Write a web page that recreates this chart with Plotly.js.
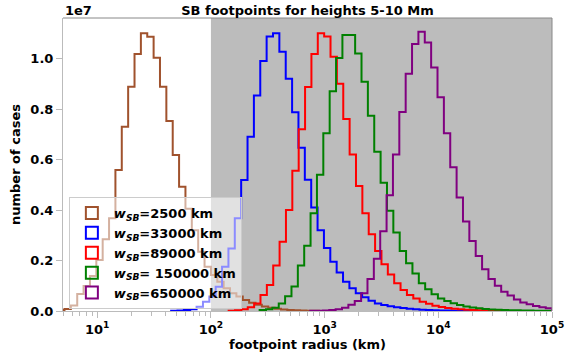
<!DOCTYPE html>
<html>
<head>
<meta charset="utf-8">
<script src="https://cdn.plot.ly/plotly-3.0.1.min.js"></script>
<style>html,body{margin:0;padding:0;background:#fff;}#chart{width:578px;height:358px;}</style>
</head>
<body>
<div id="chart"></div>
<script>
// histogram bin width in log10(km)
const binWidth = 0.056;
// first bin edge (log10 km) of each histogram
const brownStart = 0.656, blueStart = 1.650, redStart = 2.156, greenStart = 2.4285, purpleStart = 2.873;
// counts per bin, in units of 1e7
const brownCounts = [0.004,0.008,0.022,0.067,0.099,0.139,0.202,0.284,0.367,0.558,0.73,0.888,1.018,1.10,1.086,1.003,0.888,0.752,0.618,0.492,0.405,0.32,0.235,0.175,0.143,0.116,0.09,0.07,0.057,0.044,0.033,0.025,0.018,0.013,0.009,0.006,0.004,0.003,0.002,0.001,0.001];
const blueCounts = [0.001,0.002,0.004,0.007,0.017,0.037,0.057,0.096,0.175,0.248,0.367,0.519,0.69,0.853,0.99,1.087,1.10,1.027,0.92,0.787,0.647,0.52,0.41,0.32,0.25,0.195,0.152,0.116,0.09,0.07,0.054,0.041,0.03,0.024,0.019,0.015,0.012,0.009,0.007,0.005,0.004,0.003,0.002,0.0015,0.001,0.001,0.0005];
const redCounts = [0.001,0.003,0.007,0.015,0.03,0.063,0.103,0.18,0.274,0.40,0.555,0.72,0.887,1.018,1.10,1.087,1.007,0.90,0.76,0.62,0.495,0.387,0.304,0.238,0.185,0.145,0.11,0.083,0.063,0.05,0.037,0.029,0.021,0.016,0.012,0.009,0.007,0.005,0.004,0.003,0.002,0.0015,0.001,0.001];
const greenCounts = [0.004,0.007,0.013,0.03,0.058,0.097,0.18,0.258,0.387,0.54,0.704,0.87,1.002,1.093,1.093,1.02,0.908,0.773,0.631,0.508,0.397,0.311,0.238,0.189,0.149,0.11,0.086,0.066,0.05,0.04,0.031,0.024,0.018,0.014,0.011,0.008,0.006,0.005,0.004,0.003,0.0025,0.002,0.0015,0.001,0.001,0.001];
const purpleCounts = [0.0005,0.001,0.002,0.004,0.007,0.013,0.025,0.04,0.07,0.127,0.207,0.316,0.458,0.62,0.788,0.94,1.057,1.106,1.063,0.964,0.847,0.704,0.569,0.45,0.354,0.277,0.218,0.165,0.127,0.10,0.076,0.061,0.046,0.034,0.027,0.02,0.015,0.011];
const seriesNames = ['<i>w</i><sub><i>SB</i></sub>=2500 km','<i>w</i><sub><i>SB</i></sub>=33000 km','<i>w</i><sub><i>SB</i></sub>=89000 km','<i>w</i><sub><i>SB</i></sub>= 150000 km','<i>w</i><sub><i>SB</i></sub>=650000 km'];
const seriesColors = ['#a0522d','#0000ff','#ff0000','#008000','#800080'];
const xTickVals = [10,100,1000,10000,100000];
const xTickText = ['10<sup>1</sup>','10<sup>2</sup>','10<sup>3</sup>','10<sup>4</sup>','10<sup>5</sup>'];
const yTickVals = [0,0.2,0.4,0.6,0.8,1.0];
const shadeFrom = 100, shadeTo = 100000;

function stepTrace(start, counts, color){
  const x = [], y = [];
  const edge = k => Math.pow(10, start + k*binWidth);
  x.push(edge(0)); y.push(0);
  for(let k=0;k<counts.length;k++){ x.push(edge(k)); y.push(counts[k]); }
  x.push(edge(counts.length)); y.push(0);
  return {type:'scatter', mode:'lines', x:x, y:y, line:{shape:'hv', color:color, width:2}, showlegend:false, hoverinfo:'skip'};
}
const starts = [brownStart, blueStart, redStart, greenStart, purpleStart];
const counts = [brownCounts, blueCounts, redCounts, greenCounts, purpleCounts];
const traces = [];
for(let i=0;i<5;i++) traces.push(stepTrace(starts[i], counts[i], seriesColors[i]));
for(let i=0;i<5;i++) traces.push({type:'bar', x:[null], y:[null], name:seriesNames[i],
  marker:{color:'rgba(0,0,0,0)', line:{color:seriesColors[i], width:2}}, showlegend:true});

const F = 'DejaVu Sans, sans-serif';
const layout = {
  width:578, height:358,
  margin:{l:63, r:26, t:18, b:47},
  paper_bgcolor:'#fff', plot_bgcolor:'#fff',
  font:{family:F, size:13, color:'#000', weight:'bold'},
  title:{text:'SB footpoints for heights 5-10 Mm', font:{family:F, size:13, weight:'bold', color:'#000'}, x:0.532, xanchor:'center', y:0.972, yanchor:'middle'},
  xaxis:{type:'log', range:[Math.log10(5), 5], tickmode:'array', tickvals:xTickVals, ticktext:xTickText,
    ticks:'outside', ticklen:6, tickcolor:'#bbbbbb', showgrid:false, zeroline:false, showline:true, linecolor:'#bbbbbb', linewidth:1,
    tickfont:{family:F, size:13, weight:'bold'},
    minor:{dtick:'D1', ticks:'outside', ticklen:3.5, tickcolor:'#bbbbbb', showgrid:false},
    title:{text:'footpoint radius (km)', font:{family:F, size:13, weight:'bold'}, standoff:4}},
  yaxis:{range:[0,1.1604], tickmode:'array', tickvals:yTickVals, tickformat:'.1f',
    ticks:'outside', ticklen:6, tickcolor:'#bbbbbb', showgrid:false, zeroline:false, showline:true, linecolor:'#bbbbbb', linewidth:1,
    tickfont:{family:F, size:13, weight:'bold'},
    title:{text:'number of cases', font:{family:F, size:13, weight:'bold'}, standoff:6}},
  shapes:[
    {type:'rect', xref:'x', yref:'paper', x0:shadeFrom, x1:shadeTo, y0:0, y1:1, fillcolor:'#bcbcbc', line:{width:0}, layer:'below'},
    {type:'line', xref:'paper', yref:'paper', x0:0, x1:1, y0:1, y1:1, line:{color:'#888888', width:1}},
    {type:'line', xref:'paper', yref:'paper', x0:1, x1:1, y0:0, y1:1, line:{color:'#888888', width:1}}
  ],
  annotations:[{text:'1e7', xref:'paper', yref:'paper', x:0, y:1, xanchor:'left', yanchor:'bottom', showarrow:false, font:{family:F, size:13, weight:'bold'}, yshift:-2}],
  legend:{x:0.012, y:0.389, xanchor:'left', yanchor:'top', bgcolor:'rgba(255,255,255,0.55)', bordercolor:'#cccccc', borderwidth:1,
    itemwidth:34, font:{family:F, size:13, weight:'bold'}, tracegroupgap:0},
  showlegend:true
};
Plotly.newPlot('chart', traces, layout, {displayModeBar:false, staticPlot:true});
</script>
</body>
</html>
